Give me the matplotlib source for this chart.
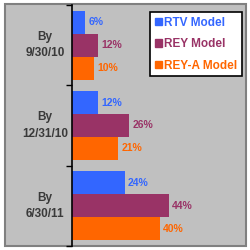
import matplotlib.pyplot as plt
from matplotlib.patches import Rectangle
import matplotlib.transforms as mtransforms

groups = ['By\n9/30/10', 'By\n12/31/10', 'By\n6/30/11']
series = ['RTV Model', 'REY Model', 'REY-A Model']
rtv = [6, 12, 24]
rey = [12, 26, 44]
rey_a = [10, 21, 40]
colors = ['#3366ff', '#993366', '#ff6600']

W = 250.0
fig = plt.figure(figsize=(2.5, 2.5), dpi=100, facecolor='white')
fig.patches.append(Rectangle((5 / W, 4 / W), 241 / W, 242 / W, transform=fig.transFigure,
                             facecolor='#c0c0c0', edgecolor='#808080', linewidth=1.5, zorder=-5))

ax = fig.add_axes([72 / W, 4 / W, 174 / W, 241 / W])
ax.set_facecolor('none')

h = 0.285
offsets = [-h, 0, h]
for vals, off, col in zip([rtv, rey, rey_a], offsets, colors):
    ys = [i + off for i in range(len(groups))]
    ax.barh(ys, vals, height=h, color=col, label=None)
    for y, v in zip(ys, vals):
        ax.text(v + 1.4, y, f'{v}%', color=col, fontsize=7.5, fontweight='bold',
                va='center', ha='left', family='Liberation Sans')

ax.set_xlim(0, 79)
ax.set_ylim(2.5, -0.5)
ax.set_xticks([])
ax.set_yticks([-0.5, 0.5, 1.5, 2.5])
ax.set_yticklabels([])
ax.tick_params(axis='y', length=4, width=1, direction='out', color='black')
for s in ['top', 'right', 'bottom']:
    ax.spines[s].set_visible(False)
ax.spines['left'].set_color('black')
ax.spines['left'].set_linewidth(1.2)

trans = mtransforms.blended_transform_factory(ax.transAxes, ax.transData)
for i, g in enumerate(groups):
    ax.text(-27 / 174, i, g, transform=trans, ha='center', va='center',
            fontsize=8.5, fontweight='bold', color='#3a3a3a', linespacing=1.5,
            family='Liberation Sans')

handles = [Rectangle((0, 0), 1, 1, color=c) for c in colors]
leg = fig.legend(handles, series, loc='upper right', bbox_to_anchor=(242 / W, 1 - 12 / W),
                 frameon=True, fancybox=False, edgecolor='black', facecolor='white',
                 framealpha=1, handlelength=0.6, handleheight=0.6, handletextpad=0.2,
                 borderpad=0.4, labelspacing=0.8, borderaxespad=0,
                 prop={'family': 'Liberation Sans', 'weight': 'bold', 'size': 8.5})
leg.get_frame().set_linewidth(1.2)
for t, c in zip(leg.get_texts(), colors):
    t.set_color(c)

fig.savefig('out.png', dpi=100, facecolor='white')
